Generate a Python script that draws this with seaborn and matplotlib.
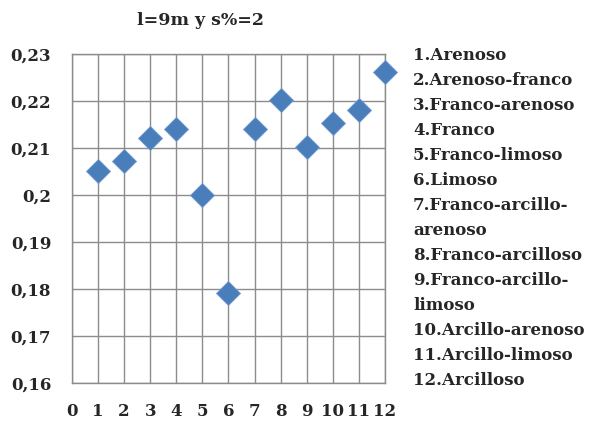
import pandas as pd
import seaborn as sns
import matplotlib.pyplot as plt

# datos
suelo = list(range(1, 13))
valor = [0.2051, 0.2072, 0.2122, 0.2141, 0.2001, 0.1791,
         0.2141, 0.2201, 0.2102, 0.2153, 0.2181, 0.2262]
y_ticks = [0.16, 0.17, 0.18, 0.19, 0.20, 0.21, 0.22, 0.23]
y_labels = ["0,16", "0,17", "0,18", "0,19", "0,2", "0,21", "0,22", "0,23"]
leyenda = ["1.Arenoso", "2.Arenoso-franco", "3.Franco-arenoso", "4.Franco",
           "5.Franco-limoso", "6.Limoso", "7.Franco-arcillo-\narenoso",
           "8.Franco-arcilloso", "9.Franco-arcillo-\nlimoso",
           "10.Arcillo-arenoso", "11.Arcillo-limoso", "12.Arcilloso"]

df = pd.DataFrame({"suelo": suelo, "valor": valor})

sns.set_style("white")
plt.rcParams["font.family"] = ["DejaVu Serif"]
plt.rcParams["font.weight"] = "bold"

fig = plt.figure(figsize=(5.9, 4.28), dpi=100)
ax = fig.add_axes([0.122, 0.105, 0.5305, 0.769])

sns.scatterplot(x="suelo", y="valor", data=df, ax=ax, marker="D", s=150,
                color="#4a7ebb", edgecolor="#6f9ad0", linewidth=0.6,
                clip_on=False, zorder=5)

ax.set_xlim(0, 12)
ax.set_ylim(0.16, 0.23)
ax.set_xticks(range(0, 13))
ax.set_yticks(y_ticks)
ax.set_yticklabels(y_labels)
ax.grid(True, color="#8c8c8c", linewidth=1)
for s in ax.spines.values():
    s.set_color("#8c8c8c")
    s.set_linewidth(1)
ax.tick_params(axis="x", direction="out", length=5, width=1, color="#8c8c8c",
               pad=9, labelsize=12)
ax.tick_params(axis="y", direction="out", length=5, width=1, color="#8c8c8c",
               pad=10, labelsize=12)
ax.set_xlabel("")
ax.set_ylabel("")

fig.text(0.339, 0.953, "l=9m y s%=2", ha="center", va="center",
         fontsize=12.5, fontweight="bold")

fig.text(0.70, 0.89, "\n".join(leyenda), ha="left", va="top",
         fontsize=12, fontweight="bold", linespacing=1.615)

fig.savefig("out.png", dpi=100)
